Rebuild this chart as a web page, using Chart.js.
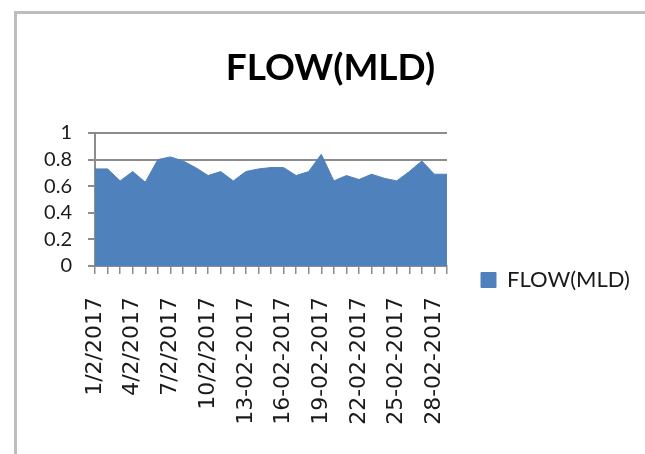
<!DOCTYPE html>
<html>
<head>
<meta charset="utf-8">
<title>FLOW(MLD)</title>
<script src="https://cdn.jsdelivr.net/npm/chart.js@4"></script>
<style>
  html, body { margin: 0; padding: 0; background: #fff; overflow: hidden; }
  #wrap  { position: relative; width: 645px; height: 454px; overflow: hidden; }
  #frame { position: absolute; left: 14px; top: 11px; right: -20px; bottom: -20px;
           border-left: 3px solid #bdbdbd; border-top: 3px solid #bdbdbd; }
  #chart { position: absolute; left: 0; top: 0; }
</style>
</head>
<body>
<div id="wrap">
  <div id="frame"></div>
  <canvas id="chart" width="645" height="454"></canvas>
</div>
<script>
// ── Data ─────────────────────────────────────────────────────
const dates = [
  '1/2/2017', '2/2/2017', '3/2/2017', '4/2/2017', '5/2/2017', '6/2/2017',
  '7/2/2017', '8/2/2017', '9/2/2017', '10/2/2017', '11/2/2017', '12/2/2017',
  '13-02-2017', '14-02-2017', '15-02-2017', '16-02-2017', '17-02-2017',
  '18-02-2017', '19-02-2017', '20-02-2017', '21-02-2017', '22-02-2017',
  '23-02-2017', '24-02-2017', '25-02-2017', '26-02-2017', '27-02-2017',
  '28-02-2017', '1/3/2017',
];
const flowMld = [
  0.73, 0.73, 0.64, 0.71, 0.63, 0.80, 0.82, 0.79, 0.74, 0.68,
  0.71, 0.64, 0.71, 0.73, 0.74, 0.74, 0.68, 0.71, 0.84, 0.64,
  0.68, 0.65, 0.69, 0.66, 0.64, 0.71, 0.79, 0.69, 0.69,
];
const seriesName = 'FLOW(MLD)';
const labelEvery = 3;          // every 3rd date shown on the axis
const yMin = 0, yMax = 1, yStep = 0.2;

// ── Styles ───────────────────────────────────────────────────
const AREA  = '#4F81BD';
const AXIS  = '#8c8c8c';
const TEXT  = '#1a1a1a';
const PAD   = { left: 22, right: 6, top: 0, bottom: 0 };
const PLOT_BOTTOM = 266;

new Chart(document.getElementById('chart'), {
  type: 'line',
  data: {
    labels: dates,
    datasets: [{
      label: seriesName,
      data: flowMld,
      fill: 'origin',
      backgroundColor: AREA,
      borderColor: AREA,
      borderWidth: 1,
      pointRadius: 0,
      tension: 0,
    }],
  },
  options: {
    responsive: false,
    animation: false,
    layout: { padding: PAD },
    plugins: {
      title: {
        display: true,
        text: seriesName,
        color: '#000',
        font: { family: 'Lato', size: 37, weight: 'bold', lineHeight: 1.2 },
        padding: { top: 46, bottom: 42.6 },
      },
      legend: {
        display: true,
        position: 'right',
        align: 'start',
        maxWidth: 192,
        // empty title only pushes the single entry down next to the x axis
        title: { display: true, text: '', font: { size: 10, lineHeight: 1 }, padding: { top: 225, bottom: 0 } },
        labels: {
          color: TEXT,
          boxWidth: 15,
          boxHeight: 15,
          padding: 34,
          font: { family: 'Lato', size: 22 },
        },
      },
      tooltip: { enabled: false },
    },
    scales: {
      x: {
        type: 'category',
        offset: false,
        grid: { drawOnChartArea: false, drawTicks: true, tickLength: 8, color: AXIS, lineWidth: 1.5 },
        border: { display: true, color: AXIS, width: 2 },
        ticks: {
          autoSkip: false,
          minRotation: 90,
          maxRotation: 90,
          padding: 23,
          color: TEXT,
          font: { family: 'DejaVu Sans', size: 22 },
          callback: (v, i) => (i % labelEvery === 0 ? dates[i] : ''),
        },
        afterFit: s => { s.height = 454 - PAD.bottom - PLOT_BOTTOM; },
      },
      y: {
        min: yMin,
        max: yMax,
        grid: { color: AXIS, lineWidth: 2, tickLength: 7 },
        border: { display: true, color: AXIS, width: 2 },
        ticks: {
          stepSize: yStep,
          autoSkip: false,
          padding: 16,
          color: TEXT,
          font: { family: 'Lato', size: 20 },
          callback: v => String(+v.toFixed(1)),
        },
        afterFit: s => { s.width = 95 - PAD.left; },
      },
    },
  },
});
</script>
</body>
</html>
